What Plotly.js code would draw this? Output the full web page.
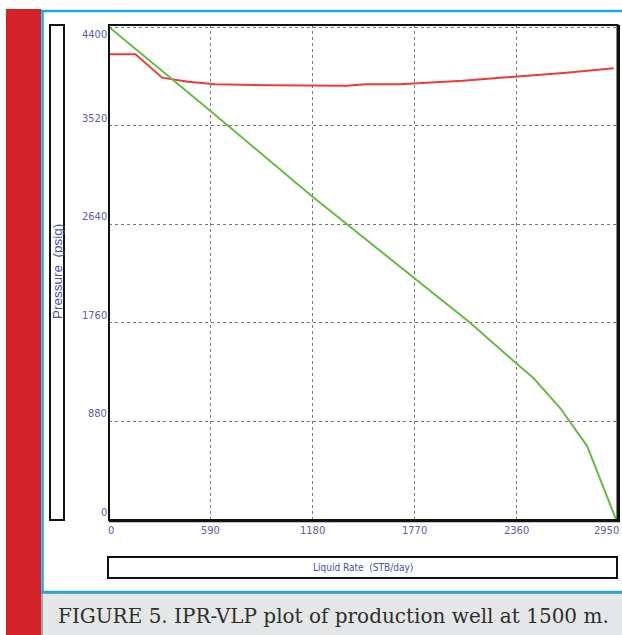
<!DOCTYPE html>
<html>
<head>
<meta charset="utf-8">
<script src="https://cdn.plot.ly/plotly-3.0.1.min.js"></script>
<style>
  html, body { margin: 0; padding: 0; background: #ffffff; }
  #chart { width: 622px; height: 635px; }
</style>
</head>
<body>
<div id="chart"></div>
<script>
// ---- data ----
const xTicks = [0, 590, 1180, 1770, 2360, 2950];
const yTicks = [0, 880, 1760, 2640, 3520, 4400];

// IPR curve (green)
const iprRate = [0, 590, 1180, 1770, 2093, 2360, 2461, 2616, 2771, 2940];
const iprPressure = [4400, 3648, 2885, 2157, 1760, 1398, 1265, 997, 660, 0];

// VLP curve (red)
const vlpRate = [0, 153, 308, 458, 555, 613, 923, 1378, 1484, 1687, 2050, 2364, 2650, 2925];
const vlpPressure = [4156, 4156, 3948, 3912, 3898, 3889, 3880, 3876, 3889, 3889, 3920, 3957, 3992, 4031];

const xTitle = 'Liquid Rate  (STB/day)';
const yTitle = 'Pressure  (psig)';
const caption = 'FIGURE 5. IPR-VLP plot of production well at 1500 m.';

// ---- layout geometry (pixels) ----
const W = 622, H = 635;
const L = 109, R = 4, T = 25, B = 115;
const pw = W - L - R, ph = H - T - B;
const px = v => (v - L) / pw;          // pixel x -> paper x
const py = v => (H - B - v) / ph;      // pixel y -> paper y

const narrow = 'Liberation Sans Narrow, DejaVu Sans Condensed, Arial Narrow, Liberation Sans, sans-serif';
const tickFont = { family: narrow, size: 11, color: '#5a5cb2' };
const titleFont = { family: narrow, size: 10, color: '#4a4cae' };

const traces = [
  { x: vlpRate, y: vlpPressure, type: 'scatter', mode: 'lines',
    line: { color: '#f03a3a', width: 2 }, name: 'VLP', hoverinfo: 'x+y' },
  { x: iprRate, y: iprPressure, type: 'scatter', mode: 'lines',
    line: { color: '#66bb44', width: 2 }, name: 'IPR', hoverinfo: 'x+y' }
];

const rect = (x0, y0, x1, y1, fill, lc, lw, layer) => ({
  type: 'rect', xref: 'paper', yref: 'paper',
  x0: px(x0), x1: px(x1), y0: py(y0), y1: py(y1),
  fillcolor: fill, line: { color: lc, width: lw }, layer: layer || 'above'
});
const seg = (x0, y0, x1, y1, c, w) => ({
  type: 'line', xref: 'paper', yref: 'paper',
  x0: px(x0), x1: px(x1), y0: py(y0), y1: py(y1),
  line: { color: c, width: w }
});

const shapes = [
  rect(6, 9, 41, 640, '#d32029', 'rgba(0,0,0,0)', 0, 'below'),
  rect(42, 593, 625, 640, '#e5e6e7', '#555555', 1, 'below'),
  seg(41, 11, 622, 11, '#1aa8e2', 2.5),
  seg(42.5, 11, 42.5, 592, '#1aa8e2', 2.5),
  seg(41, 592, 622, 592, '#1aa8e2', 2.5),
  rect(50, 25, 64, 520, '#ffffff', '#111111', 2),
  rect(108, 557, 617, 578, '#ffffff', '#111111', 2),
  rect(109, 25, 617.5, 520, 'rgba(0,0,0,0)', '#111111', 2),
  seg(109, 521, 619.5, 521, '#111111', 2.5),
  seg(619, 25, 619, 522, '#111111', 2)
];

const annotations = [];
yTicks.forEach((v, i) => {
  annotations.push({
    xref: 'paper', yref: 'y', x: px(108), y: v,
    xanchor: 'right', yanchor: i === yTicks.length - 1 ? 'top' : 'bottom',
    text: String(v), showarrow: false, font: tickFont, borderpad: 0
  });
});
xTicks.forEach((v, i) => {
  annotations.push({
    xref: 'x', yref: 'paper', x: v, y: py(523),
    xanchor: i === xTicks.length - 1 ? 'right' : (i === 0 ? 'left' : 'center'),
    yanchor: 'top', text: String(v), showarrow: false, font: tickFont, borderpad: 0,
    xshift: i === xTicks.length - 1 ? 2 : (i === 0 ? -2 : 0)
  });
});
annotations.push({
  xref: 'paper', yref: 'paper', x: px(362.5), y: py(567.5),
  xanchor: 'center', yanchor: 'middle', text: xTitle, showarrow: false, font: titleFont
});
annotations.push({
  xref: 'paper', yref: 'paper', x: px(57), y: py(272),
  xanchor: 'center', yanchor: 'middle', text: yTitle, showarrow: false, textangle: -90,
  font: { family: 'Liberation Sans, Arial, sans-serif', size: 13.5, color: '#4a4cae' }
});
annotations.push({
  xref: 'paper', yref: 'paper', x: px(56), y: py(616),
  xanchor: 'left', yanchor: 'middle', text: caption, showarrow: false,
  font: { family: 'DejaVu Serif, Liberation Serif, serif', size: 20, color: '#2e2e2e' }
});

const layout = {
  width: W, height: H,
  margin: { l: L, r: R, t: T, b: B, pad: 0 },
  paper_bgcolor: '#ffffff', plot_bgcolor: '#ffffff',
  showlegend: false,
  xaxis: {
    range: [0, 2950], tickmode: 'array', tickvals: xTicks, showticklabels: false,
    ticks: '', showgrid: true, gridcolor: '#777777', gridwidth: 1, griddash: 'dot',
    zeroline: false, showline: false, fixedrange: true
  },
  yaxis: {
    range: [0, 4418], tickmode: 'array', tickvals: yTicks, showticklabels: false,
    ticks: '', showgrid: true, gridcolor: '#777777', gridwidth: 1, griddash: 'dot',
    zeroline: false, showline: false, fixedrange: true
  },
  shapes: shapes,
  annotations: annotations
};

Plotly.newPlot('chart', traces, layout, { displayModeBar: false, staticPlot: true });
</script>
</body>
</html>
